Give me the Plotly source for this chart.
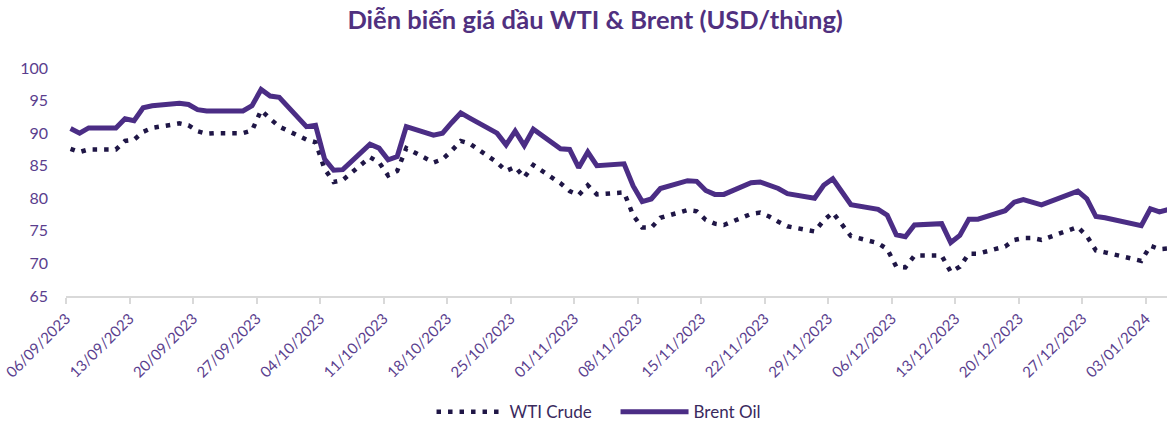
import plotly.graph_objects as go

dates = [
    "2023-09-06", "2023-09-07", "2023-09-08", "2023-09-11", "2023-09-12", "2023-09-13", "2023-09-14", "2023-09-15",
    "2023-09-18", "2023-09-19", "2023-09-20", "2023-09-21", "2023-09-22", "2023-09-25", "2023-09-26", "2023-09-27",
    "2023-09-28", "2023-09-29",
    "2023-10-02", "2023-10-03", "2023-10-04", "2023-10-05", "2023-10-06", "2023-10-09", "2023-10-10", "2023-10-11",
    "2023-10-12", "2023-10-13", "2023-10-16", "2023-10-17", "2023-10-18", "2023-10-19", "2023-10-20", "2023-10-23",
    "2023-10-24", "2023-10-25", "2023-10-26", "2023-10-27", "2023-10-30", "2023-10-31",
    "2023-11-01", "2023-11-02", "2023-11-03", "2023-11-06", "2023-11-07", "2023-11-08", "2023-11-09", "2023-11-10",
    "2023-11-13", "2023-11-14", "2023-11-15", "2023-11-16", "2023-11-17", "2023-11-20", "2023-11-21", "2023-11-22",
    "2023-11-23", "2023-11-24", "2023-11-27", "2023-11-28", "2023-11-29", "2023-11-30",
    "2023-12-01", "2023-12-04", "2023-12-05", "2023-12-06", "2023-12-07", "2023-12-08", "2023-12-11", "2023-12-12",
    "2023-12-13", "2023-12-14", "2023-12-15", "2023-12-18", "2023-12-19", "2023-12-20", "2023-12-21", "2023-12-22",
    "2023-12-26", "2023-12-27", "2023-12-28", "2023-12-29",
    "2024-01-02", "2024-01-03", "2024-01-04", "2024-01-05",
]

brent = [
    90.7, 90.0, 90.8, 90.8, 92.2, 91.9, 93.9, 94.2,
    94.6, 94.4, 93.6, 93.4, 93.4, 93.4, 94.2, 96.7,
    95.7, 95.5,
    91.0, 91.2, 86.0, 84.3, 84.4, 88.3, 87.7, 85.9,
    86.4, 91.0, 89.7, 90.0, 91.6, 93.1, 92.3, 90.0,
    88.2, 90.3, 88.1, 90.6, 87.6, 87.5,
    84.7, 87.1, 85.0, 85.3, 81.9, 79.5, 79.9, 81.5,
    82.7, 82.6, 81.2, 80.6, 80.6, 82.4, 82.5, 82.0,
    81.5, 80.7, 80.0, 82.0, 83.0, 81.0,
    79.0, 78.3, 77.4, 74.4, 74.1, 75.9, 76.1, 73.2,
    74.3, 76.8, 76.8, 78.1, 79.4, 79.8, 79.4, 79.0,
    81.1, 79.9, 77.2, 77.0,
    75.8, 78.4, 77.9, 78.3,
]

wti = [
    87.6, 87.1, 87.5, 87.5, 88.8, 89.0, 90.2, 90.8,
    91.5, 91.2, 90.3, 89.9, 90.0, 90.0, 90.4, 93.5,
    92.2, 91.0,
    89.0, 88.6, 84.5, 82.5, 82.8, 86.3, 85.5, 83.5,
    84.2, 87.7, 85.5, 86.0, 87.3, 88.8, 88.4, 85.5,
    84.2, 84.8, 83.2, 85.1, 82.3, 81.1,
    80.5, 82.0, 80.6, 80.9, 77.4, 75.5, 75.5, 77.0,
    78.2, 78.0, 76.7, 76.1, 75.9, 77.6, 77.8, 77.2,
    76.4, 75.7, 74.9, 76.6, 77.8, 76.0,
    74.2, 73.1, 72.2, 69.5, 69.4, 71.2, 71.2, 68.7,
    69.5, 71.5, 71.5, 72.6, 73.6, 73.9, 73.9, 73.6,
    75.6, 74.2, 72.0, 71.7,
    70.4, 72.7, 72.2, 72.3,
]

y_ticks = [65, 70, 75, 80, 85, 90, 95, 100]

title_text = "Diễn biến giá dầu WTI & Brent (USD/thùng)"
FONT = "Lato"
PURPLE = "#4B2D85"
TEXT_PURPLE = "#5A3E8E"
NAVY = "#1F1646"

fig = go.Figure()
fig.add_trace(go.Scatter(
    x=dates, y=wti, name="WTI Crude", mode="lines",
    xperiod=86400000, xperiodalignment="middle",
    line=dict(color=NAVY, width=4.5, dash="4.5px,7px"),
))
fig.add_trace(go.Scatter(
    x=dates, y=brent, name="Brent Oil", mode="lines",
    xperiod=86400000, xperiodalignment="middle",
    line=dict(color=PURPLE, width=5),
))

fig.update_layout(
    width=1167, height=431,
    margin=dict(l=66, r=0, t=68, b=129),
    paper_bgcolor="white", plot_bgcolor="white",
    font=dict(family=FONT, color=TEXT_PURPLE),
    title=dict(text="<b>" + title_text + "</b>", x=0.51, xanchor="center",
               y=0.953, yanchor="middle",
               font=dict(family=FONT, size=25.5, color="#50307F")),
    showlegend=True,
    legend=dict(orientation="h", x=0.332, xanchor="left", y=-0.51, yanchor="middle",
                font=dict(family=FONT, size=17, color="#3A2A5E"),
                itemwidth=68, entrywidth=101, entrywidthmode="pixels",
                tracegroupgap=0),
)

fig.update_xaxes(
    type="date", automargin=False,
    range=["2023-09-06", "2024-01-05 08:00"],
    tick0="2023-09-06", dtick=7 * 86400000,
    tickformat="%d/%m/%Y", tickangle=-45,
    tickfont=dict(family=FONT, size=15, color=TEXT_PURPLE),
    showgrid=False, zeroline=False,
    showline=True, linecolor="#D9D9D9", linewidth=2,
    ticks="outside", tickcolor="#D9D9D9", ticklen=6, tickwidth=2,
)
fig.update_yaxes(
    range=[65, 100], tickvals=y_ticks, automargin=False,
    tickfont=dict(family=FONT, size=16, color=TEXT_PURPLE),
    showgrid=False, zeroline=False, showline=False,
    ticklabelstandoff=17,
)

fig.write_html("out.html", config={"displayModeBar": False},
               post_script="document.body.style.margin='0';")
